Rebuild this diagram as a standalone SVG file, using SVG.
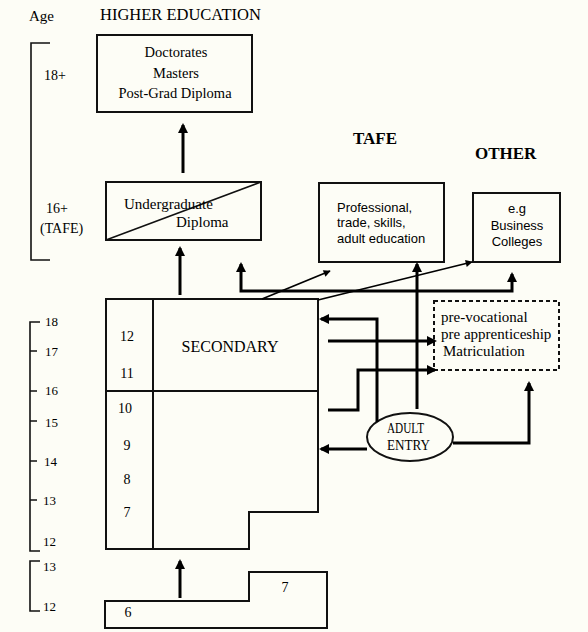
<svg xmlns="http://www.w3.org/2000/svg" width="588" height="632" viewBox="0 0 588 632">
<style>
.bg{fill:#fdfdf6}
.box{fill:none;stroke:#111;stroke-width:2}
.thin{fill:none;stroke:#111;stroke-width:1.6}
.arr{fill:none;stroke:#000;stroke-width:3}
.diag{fill:none;stroke:#000;stroke-width:1.8}
.dash{fill:none;stroke:#111;stroke-width:2;stroke-dasharray:4 3}
.serif{font-family:"Liberation Serif","Times New Roman",serif;fill:#000}
.sans{font-family:"Liberation Sans",Arial,sans-serif;fill:#000}
.bold{font-weight:bold}
</style>
<defs>
<marker id="ah" viewBox="0 0 10 10" refX="8" refY="5" markerUnits="userSpaceOnUse" markerWidth="10" markerHeight="10" orient="auto">
<path d="M0,0 L10,5 L0,10 z" fill="#000"/>
</marker>
<marker id="ahs" viewBox="0 0 10 10" refX="9" refY="5" markerUnits="userSpaceOnUse" markerWidth="8" markerHeight="7" orient="auto">
<path d="M0,0 L10,5 L0,10 z" fill="#000"/>
</marker>
</defs>
<rect class="bg" x="0" y="0" width="588" height="632"/>

<g id="titles">
<text class="serif" x="29" y="21" font-size="15">Age</text>
<text class="serif" x="100" y="20" font-size="16.5">HIGHER EDUCATION</text>
<text class="serif bold" x="353" y="144" font-size="17">TAFE</text>
<text class="serif bold" x="475" y="159" font-size="17">OTHER</text>
</g>

<g id="age-scale-top">
<path class="thin" d="M50,43 L31,43 L31,260 L50,260"/>
<text class="serif" x="44" y="80" font-size="14">18+</text>
<text class="serif" x="46" y="213" font-size="14">16+</text>
<text class="serif" x="40" y="233" font-size="14">(TAFE)</text>
</g>

<g id="age-scale-secondary">
<path class="thin" d="M40,322 L30,322 L30,551 L40,551 M30,351 L37,351 M30,391 L37,391 M30,421 L37,421 M30,461 L37,461 M30,500 L37,500"/>
<g class="serif" font-size="13">
<text x="45" y="326">18</text>
<text x="45" y="356">17</text>
<text x="45" y="395">16</text>
<text x="45" y="427">15</text>
<text x="44" y="466">14</text>
<text x="43" y="505">13</text>
<text x="43" y="546">12</text>
</g>
</g>

<g id="age-scale-primary">
<path class="thin" d="M40,561 L30,561 L30,611 L40,611"/>
<text class="serif" x="43" y="571" font-size="13">13</text>
<text class="serif" x="43" y="611" font-size="13">12</text>
</g>

<g id="higher-degrees">
<rect class="box" x="97" y="35" width="155" height="77"/>
<g class="serif" font-size="14.5" text-anchor="middle">
<text x="176" y="57">Doctorates</text>
<text x="176" y="78">Masters</text>
<text x="175" y="98">Post-Grad Diploma</text>
</g>
</g>

<g id="undergraduate">
<rect class="box" x="106" y="182" width="155" height="58"/>
<line class="thin" x1="106" y1="240" x2="261" y2="182"/>
<text class="serif" x="124" y="209" font-size="15">Undergraduate</text>
<text class="serif" x="176" y="227" font-size="15">Diploma</text>
</g>

<g id="tafe">
<rect class="box" x="319" y="183" width="125" height="79"/>
<g class="sans" font-size="13">
<text x="337" y="212">Professional,</text>
<text x="337" y="227">trade, skills,</text>
<text x="337" y="243">adult education</text>
</g>
</g>

<g id="other">
<rect class="box" x="473" y="193" width="87" height="69"/>
<g class="sans" font-size="13" text-anchor="middle">
<text x="517" y="213">e.g</text>
<text x="517" y="230">Business</text>
<text x="517" y="246">Colleges</text>
</g>
</g>

<g id="secondary">
<path class="box" d="M106,299 L318,299 L318,512 L249,512 L249,549 L106,549 Z"/>
<line class="box" x1="153" y1="299" x2="153" y2="549"/>
<line class="box" x1="106" y1="391" x2="318" y2="391"/>
<g class="serif" font-size="14" text-anchor="middle">
<text x="127" y="341">12</text>
<text x="127" y="378">11</text>
<text x="125" y="413">10</text>
<text x="127" y="450">9</text>
<text x="127" y="484">8</text>
<text x="127" y="517">7</text>
</g>
<text class="serif" x="230" y="352" font-size="16" text-anchor="middle">SECONDARY</text>
</g>

<g id="primary">
<path class="box" d="M105,601 L249,601 L249,572 L327,572 L327,628 L105,628 Z"/>
<text class="serif" x="128" y="617" font-size="14" text-anchor="middle">6</text>
<text class="serif" x="285" y="592" font-size="14" text-anchor="middle">7</text>
</g>

<g id="pre-vocational">
<rect class="dash" x="434" y="301" width="125" height="69"/>
<g class="serif" font-size="15">
<text x="441" y="322">pre-vocational</text>
<text x="441" y="339">pre apprenticeship</text>
<text x="443" y="356">Matriculation</text>
</g>
</g>

<g id="adult-entry">
<ellipse class="box" cx="410" cy="437" rx="43" ry="24"/>
<text class="serif" x="387" y="433" font-size="15" textLength="37" lengthAdjust="spacingAndGlyphs">ADULT</text>
<text class="serif" x="387" y="450" font-size="15" textLength="43" lengthAdjust="spacingAndGlyphs">ENTRY</text>
</g>

<g id="connectors">
<line class="arr" x1="183" y1="173" x2="183" y2="125" marker-end="url(#ah)"/>
<line class="arr" x1="180" y1="295" x2="180" y2="248" marker-end="url(#ah)"/>
<line class="arr" x1="180" y1="598" x2="180" y2="561" marker-end="url(#ah)"/>
<line class="diag" x1="262" y1="299" x2="330" y2="271" marker-end="url(#ahs)"/>
<line class="diag" x1="318" y1="300" x2="472" y2="262" marker-end="url(#ahs)"/>
<path class="arr" d="M400,291 L241,291 L241,264" marker-end="url(#ah)"/>
<path class="arr" d="M400,291 L512,291 L512,274" marker-end="url(#ah)"/>
<line class="arr" x1="417" y1="409" x2="417" y2="264" marker-end="url(#ah)"/>
<path class="arr" d="M377,422 L377,319 L321,319" marker-end="url(#ah)"/>
<line class="arr" x1="328" y1="341" x2="435" y2="341" marker-end="url(#ah)"/>
<path class="arr" d="M328,410 L358,410 L358,370 L435,370" marker-end="url(#ah)"/>
<line class="arr" x1="367" y1="449" x2="321" y2="449" marker-end="url(#ah)"/>
<path class="arr" d="M453,443 L529,443 L529,383" marker-end="url(#ah)"/>
</g>
</svg>
